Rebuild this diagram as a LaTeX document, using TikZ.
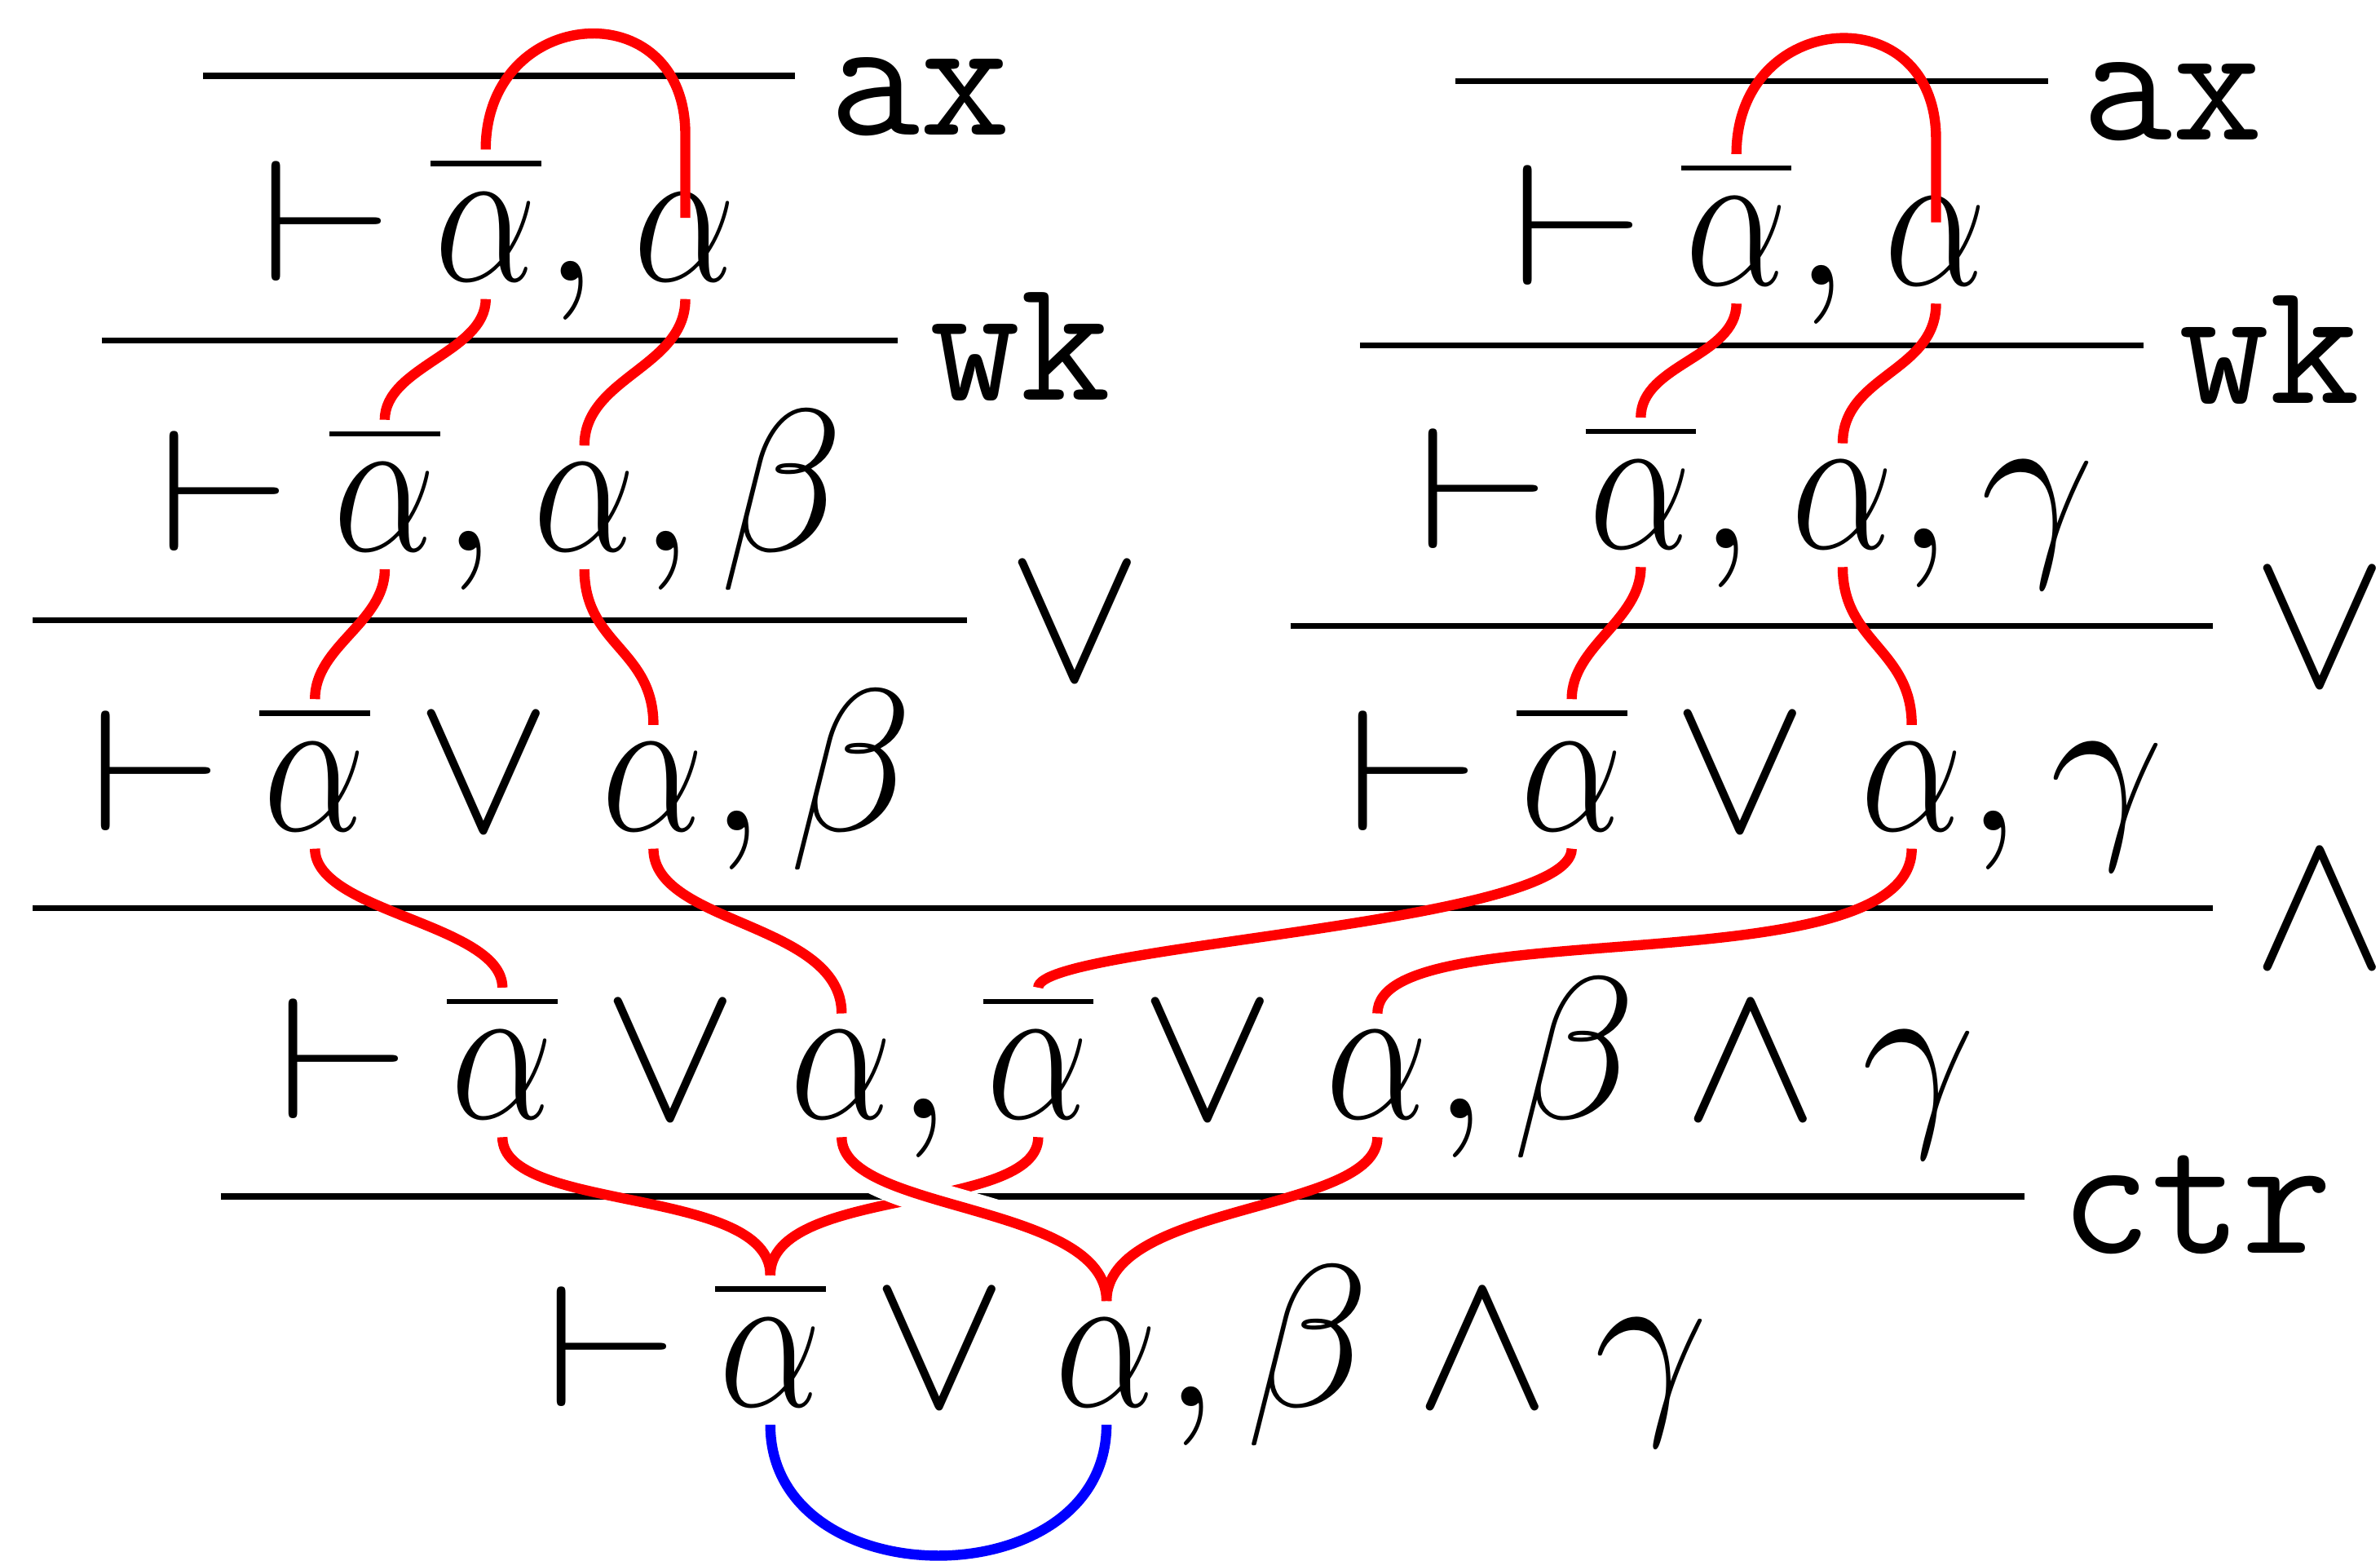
\RequirePackage{fix-cm}
\documentclass[tikz,border=0pt]{standalone}
\usepackage{amsmath}
\usepackage{graphicx}
\usepackage{tikz}
\usetikzlibrary{calc}

\newcommand{\pal}{\scalebox{0.8}[1]{$\alpha$}}
\newcommand{\nal}{\overline{\kern0.8pt\rule{0pt}{18.5pt}\scalebox{0.8}[1]{$\alpha$}\kern0.8pt}}
\newcommand{\tstile}{\scalebox{1.08}[0.85]{$\vdash$}}

\begin{document}
\begin{tikzpicture}[x=0.1mm, y=-0.1mm,
                    frm/.style={anchor=base, inner sep=0pt, outer xsep=0pt, outer ysep=1.2mm, font=\fontsize{38}{46}\selectfont},
                    negfrm/.style={frm, outer ysep=0.4mm, text depth=0.8mm},
                    rname/.style={anchor=base west, inner sep=0pt, font=\fontsize{33}{40}\selectfont\ttfamily},
                    rsym/.style={anchor=base west, inner sep=0pt, font=\fontsize{38}{46}\selectfont},
                    rul/.style={line width=1.1pt},
                    strand/.style={red, line width=1.9pt},
                    overstrand/.style={strand, preaction={draw, white, line width=6.5pt}},
                    cutarc/.style={blue, line width=1.9pt}]

            \useasboundingbox (0,0) rectangle (1568,1028);

            % left branch
            \node[frm]    (lt1) at (215,185)   {$\tstile$};
            \node[negfrm] (ln1) at (320,185)   {$\nal$};
            \node[frm]    (lc1) at (376,185)   {$,$};
            \node[frm]    (lp1) at (451.5,185) {$\pal$};

            \node[frm]    (lt2)  at (148,363)   {$\tstile$};
            \node[negfrm] (ln2)  at (253.5,363) {$\nal$};
            \node[frm]    (lc2a) at (309,363)   {$,$};
            \node[frm]    (lp2)  at (385,363)   {$\pal$};
            \node[frm]    (lc2b) at (439,363)   {$,$};
            \node[frm]    (lb2)  at (515,363)   {$\beta$};

            \node[frm]    (lt3) at (103,547)   {$\tstile$};
            \node[negfrm] (ln3) at (207.5,547) {$\nal$};
            \node[frm]    (lo3) at (319,547)   {$\vee$};
            \node[frm]    (lp3) at (430.5,547) {$\pal$};
            \node[frm]    (lc3) at (485.5,547) {$,$};
            \node[frm]    (lb3) at (561,547)   {$\beta$};

            % right branch
            \node[frm]    (rt1) at (1039.7,188) {$\tstile$};
            \node[negfrm] (rn1) at (1144,188)   {$\nal$};
            \node[frm]    (rc1) at (1200,188)   {$,$};
            \node[frm]    (rp1) at (1275.5,188) {$\pal$};

            \node[frm]    (rt2)  at (977.3,361.5) {$\tstile$};
            \node[negfrm] (rn2)  at (1081,361.5)  {$\nal$};
            \node[frm]    (rc2a) at (1137.5,361.5) {$,$};
            \node[frm]    (rp2)  at (1214,361.5)  {$\pal$};
            \node[frm]    (rc2b) at (1268,361.5)  {$,$};
            \node[frm]    (rg2)  at (1342.5,361.5) {$\gamma$};

            \node[frm]    (rt3) at (931.2,547)  {$\tstile$};
            \node[negfrm] (rn3) at (1035.5,547) {$\nal$};
            \node[frm]    (ro3) at (1146.5,547) {$\vee$};
            \node[frm]    (rp3) at (1259.5,547) {$\pal$};
            \node[frm]    (rc3) at (1313.7,547) {$,$};
            \node[frm]    (rg3) at (1388,547)   {$\gamma$};

            % joined sequents
            \node[frm]    (t4)  at (226.5,737)  {$\tstile$};
            \node[negfrm] (n4a) at (331,737)    {$\nal$};
            \node[frm]    (o4a) at (442,737)    {$\vee$};
            \node[frm]    (p4a) at (554.5,737)  {$\pal$};
            \node[frm]    (c4a) at (609,737)    {$,$};
            \node[negfrm] (n4b) at (684,737)    {$\nal$};
            \node[frm]    (o4b) at (796,737)    {$\vee$};
            \node[frm]    (p4b) at (907.5,737)  {$\pal$};
            \node[frm]    (c4b) at (962,737)    {$,$};
            \node[frm]    (b4)  at (1037.5,737) {$\beta$};
            \node[frm]    (w4)  at (1153.7,737) {$\wedge$};
            \node[frm]    (g4)  at (1264,737)   {$\gamma$};

            \node[frm]    (t5) at (403,926.4)   {$\tstile$};
            \node[negfrm] (n5) at (507.5,926.4) {$\nal$};
            \node[frm]    (o5) at (619,926.4)   {$\vee$};
            \node[frm]    (p5) at (729,926.4)   {$\pal$};
            \node[frm]    (c5) at (785,926.4)   {$,$};
            \node[frm]    (b5) at (861.5,926.4) {$\beta$};
            \node[frm]    (w5) at (977,926.4)   {$\wedge$};
            \node[frm]    (g5) at (1088,926.4)  {$\gamma$};

            % rule lines and names
            \draw[rul] (134,50) -- (524,50);
            \draw[rul] (67,224.5) -- (591.5,224.5);
            \draw[rul] (21.5,408.5) -- (637,408.5);
            \draw[rul] (958.7,53.5) -- (1349.2,53.5);
            \draw[rul] (896,227.5) -- (1412,227.5);
            \draw[rul] (850.2,412.5) -- (1457.7,412.5);
            \draw[rul] (21.5,598) -- (1457.7,598);
            \draw[rul] (145.5,788) -- (1333.7,788);

            \node[rname] (axl)  at (546,89)      {ax};
            \node[rname] (wkl)  at (612,263.5)   {wk};
            \node[rsym]  (orl)  at (663,448)     {$\vee$};
            \node[rname] (axr)  at (1370.7,92)   {ax};
            \node[rname] (wkr)  at (1434.7,265.5) {wk};
            \node[rsym]  (orr)  at (1483,451.5)  {$\vee$};
            \node[rsym]  (andl) at (1483,637)    {$\wedge$};
            \node[rname] (ctrl) at (1357,825.4)  {ctr};

            % axiom links
            \draw[strand] (ln1.north) .. controls +(0,-95) and +(0,-95) .. ($(lp1.north)+(0,-27)$) -- ($(lp1.north)+(0,28)$);
            \draw[strand] (rn1.north) .. controls +(0,-95) and +(0,-95) .. ($(rp1.north)+(0,-27)$) -- ($(rp1.north)+(0,28)$);

            % wk
            \draw[strand] (ln1.south) .. controls +(0,35) and +(0,-35) .. (ln2.north);
            \draw[strand] (lp1.south) .. controls +(0,45) and +(0,-45) .. (lp2.north);
            \draw[strand] (rn1.south) .. controls +(0,35) and +(0,-35) .. (rn2.north);
            \draw[strand] (rp1.south) .. controls +(0,45) and +(0,-45) .. (rp2.north);

            % or
            \draw[strand] (ln2.south) .. controls +(0,35) and +(0,-35) .. (ln3.north);
            \draw[strand] (lp2.south) .. controls +(0,50) and +(0,-50) .. (lp3.north);
            \draw[strand] (rn2.south) .. controls +(0,35) and +(0,-35) .. (rn3.north);
            \draw[strand] (rp2.south) .. controls +(0,50) and +(0,-50) .. (rp3.north);

            % and
            \draw[strand] (ln3.south) .. controls +(0,42) and +(0,-42) .. (n4a.north);
            \draw[strand] (lp3.south) .. controls +(0,50) and +(0,-60) .. (p4a.north);
            \draw[strand] (rn3.south) .. controls +(0,50) and +(0,-28) .. (n4b.north);
            \draw[strand] (rp3.south) .. controls +(0,92) and +(0,-68) .. (p4b.north);

            % ctr
            \draw[strand] (n4a.south) .. controls +(0,50) and +(0,-59) .. (n5.north);
            \draw[strand] (n4b.south) .. controls +(0,50) and +(0,-59) .. (n5.north);
            \draw[overstrand] (p4a.south) .. controls +(0,50) and +(0,-65) .. (p5.north);
            \draw[strand] (p4b.south) .. controls +(0,50) and +(0,-65) .. (p5.north);

            % cut
            \draw[cutarc] (n5.south) .. controls +(0,115) and +(0,115) .. (p5.south);
        \end{tikzpicture}
\end{document}
